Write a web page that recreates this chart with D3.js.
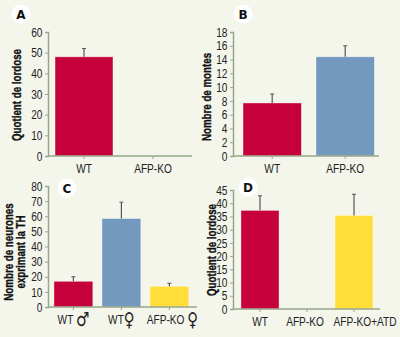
<!DOCTYPE html>
<html>
<head>
<meta charset="utf-8">
<script src="https://cdn.jsdelivr.net/npm/d3@7"></script>
<style>
  html, body { margin: 0; padding: 0; background: #f4f6ec; }
  svg { display: block; }
</style>
</head>
<body>
<svg id="fig" width="400" height="337"></svg>
<script>
// panel A : quotient de lordose
const catsA = ["WT", "AFP-KO"];
const meanA = [48, 0];
const errA = [4, 0];
const ticksA = [0, 10, 20, 30, 40, 50, 60];

// panel B : nombre de montes
const catsB = ["WT", "AFP-KO"];
const meanB = [7.7, 14.4];
const errB = [1.3, 1.6];
const ticksB = [0, 2, 4, 6, 8, 10, 12, 14, 16, 18];

// panel C : neurones TH
const catsC = ["WT ♂", "WT♀", "AFP-KO ♀"];
const meanC = [17, 58.5, 13.7];
const errC = [3, 10.8, 2];
const ticksC = [0, 10, 20, 30, 40, 50, 60, 70, 80];

// panel D : lordose après ATD
const catsD = ["WT", "AFP-KO", "AFP-KO+ATD"];
const meanD = [37.3, 0, 35.4];
const errD = [5.5, 0, 8];
const ticksD = [0, 5, 10, 15, 20, 25, 30, 35, 40, 45];

const barColors = { WT: "#c6003b", KO: "#7399bf", ATD: "#ffde3a" };
const axisColor = "#98a68a";
const textFont = '"Liberation Sans", Arial, sans-serif';
const squeeze = 0.78; // narrow the lettering horizontally

const svg = d3.select("#fig");

function drawPanel(p) {
  const g = svg.append("g");

  const y = d3.scaleLinear()
    .domain([0, d3.max(p.ticks)])
    .range([p.base, p.top]);

  const x = d3.scaleBand()
    .domain(p.cats)
    .range(p.band)
    .paddingInner(p.pad)
    .paddingOuter(p.pad / 2);

  // y axis
  const ya = g.append("g")
    .attr("transform", `translate(${p.ax},0)`)
    .call(d3.axisLeft(y).tickValues(p.ticks).tickSize(3).tickPadding(2.5));
  ya.select(".domain").attr("stroke", axisColor).attr("stroke-width", 1.5);
  ya.selectAll(".tick line").attr("stroke", axisColor);
  ya.selectAll(".tick text")
    .attr("font-family", textFont)
    .attr("font-size", 13)
    .attr("fill", "#222")
    .attr("x", -5.5 / squeeze)
    .attr("transform", `scale(${squeeze},1)`);

  // bars
  g.selectAll("rect.bar")
    .data(p.cats)
    .join("rect")
    .attr("class", "bar")
    .attr("x", d => x(d))
    .attr("width", x.bandwidth())
    .attr("y", (d, i) => y(p.mean[i]))
    .attr("height", (d, i) => y(0) - y(p.mean[i]))
    .attr("fill", (d, i) => p.colors[i])
    .attr("stroke", "#ffffff")
    .attr("stroke-opacity", 0.5)
    .attr("stroke-width", 0.8);

  // error bars (upper half only)
  const err = p.cats.map((d, i) => ({ c: d, m: p.mean[i], e: p.err[i] }))
    .filter(d => d.e > 0);
  g.selectAll("line.err")
    .data(err)
    .join("line")
    .attr("class", "err")
    .attr("x1", d => x(d.c) + x.bandwidth() / 2)
    .attr("x2", d => x(d.c) + x.bandwidth() / 2)
    .attr("y1", d => y(d.m))
    .attr("y2", d => y(d.m + d.e))
    .attr("stroke", "#555")
    .attr("stroke-width", 1.2);
  g.selectAll("line.cap")
    .data(err)
    .join("line")
    .attr("class", "cap")
    .attr("x1", d => x(d.c) + x.bandwidth() / 2 - 2)
    .attr("x2", d => x(d.c) + x.bandwidth() / 2 + 2)
    .attr("y1", d => y(d.m + d.e))
    .attr("y2", d => y(d.m + d.e))
    .attr("stroke", "#555")
    .attr("stroke-width", 1);

  // x axis
  g.append("line")
    .attr("x1", p.ax).attr("x2", p.xend)
    .attr("y1", p.base).attr("y2", p.base)
    .attr("stroke", axisColor).attr("stroke-width", 1.5);
  g.selectAll("line.xt")
    .data(p.cats)
    .join("line")
    .attr("class", "xt")
    .attr("x1", d => x(d) + x.bandwidth() / 2)
    .attr("x2", d => x(d) + x.bandwidth() / 2)
    .attr("y1", p.base).attr("y2", p.base + 3)
    .attr("stroke", axisColor);

  const lab = g.selectAll("text.xl")
    .data(p.cats)
    .join("text")
    .attr("class", "xl")
    .attr("transform", (d, i) => `translate(${x(d) + x.bandwidth() / 2 + (p.shift ? p.shift[i] : 0)},${p.base + 17}) scale(${squeeze},1)`)
    .attr("text-anchor", "middle")
    .attr("font-family", textFont)
    .attr("font-size", 13)
    .attr("fill", "#222");
  lab.each(function (d) {
    const t = d3.select(this);
    const m = d.match(/^(.*?)([♂♀]?)$/);
    t.append("tspan").text(m[1]);
    if (m[2]) {
      t.append("tspan")
        .attr("font-family", "DejaVu Sans, sans-serif")
        .attr("font-size", 19)
        .attr("dy", 2)
        .text(m[2]);
    }
  });

  // y title
  const yt = g.append("text")
    .attr("transform", `translate(${p.tx},${p.ty}) rotate(-90) scale(${squeeze},1)`)
    .attr("text-anchor", "middle")
    .attr("font-family", textFont)
    .attr("font-weight", "bold")
    .attr("font-size", 12.5)
    .attr("fill", "#111")
    .attr("stroke", "#111")
    .attr("stroke-width", 0.35);
  p.title.forEach((line, i) => {
    yt.append("tspan")
      .attr("x", 0)
      .attr("dy", i === 0 ? 0 : 12.5)
      .text(line);
  });

  // panel letter
  g.append("circle")
    .attr("cx", p.lx).attr("cy", p.ly).attr("r", 9.5)
    .attr("fill", "#ffffff");
  g.append("text")
    .attr("x", p.lx).attr("y", p.ly + 4.5)
    .attr("text-anchor", "middle")
    .attr("font-family", "DejaVu Sans, sans-serif")
    .attr("font-weight", "bold")
    .attr("font-size", 12)
    .attr("fill", "#111")
    .text(p.letter);
}

drawPanel({
  cats: catsA, mean: meanA, err: errA, ticks: ticksA,
  colors: [barColors.WT, barColors.WT],
  ax: 48, xend: 192, top: 32, base: 156,
  band: [49.5, 187.5], pad: 0.16,
  title: ["Quotient de lordose"], tx: 21, ty: 95,
  letter: "A", lx: 21, ly: 14
});

drawPanel({
  cats: catsB, mean: meanB, err: errB, ticks: ticksB,
  colors: [barColors.WT, barColors.KO],
  ax: 233, xend: 379, top: 32, base: 156,
  band: [235.7, 381.7], pad: 0.2,
  title: ["Nombre de montes"], tx: 211, ty: 97,
  letter: "B", lx: 243, ly: 14
});

drawPanel({
  cats: catsC, mean: meanC, err: errC, ticks: ticksC,
  colors: [barColors.WT, barColors.KO, barColors.ATD],
  ax: 48, xend: 197, top: 186, base: 307,
  band: [49.4, 193.4], pad: 0.19, shift: [0, 0, 3],
  title: ["Nombre de neurones", "exprimant la TH"], tx: 13, ty: 252,
  letter: "C", lx: 67, ly: 188
});

drawPanel({
  cats: catsD, mean: meanD, err: errD, ticks: ticksD,
  colors: [barColors.WT, barColors.WT, barColors.ATD],
  ax: 233, xend: 380, top: 190, base: 309,
  band: [236.5, 377.5], pad: 0.19, shift: [0, -2, 11],
  title: ["Quotient de lordose"], tx: 216, ty: 250,
  letter: "D", lx: 248, ly: 187
});
</script>
</body>
</html>
